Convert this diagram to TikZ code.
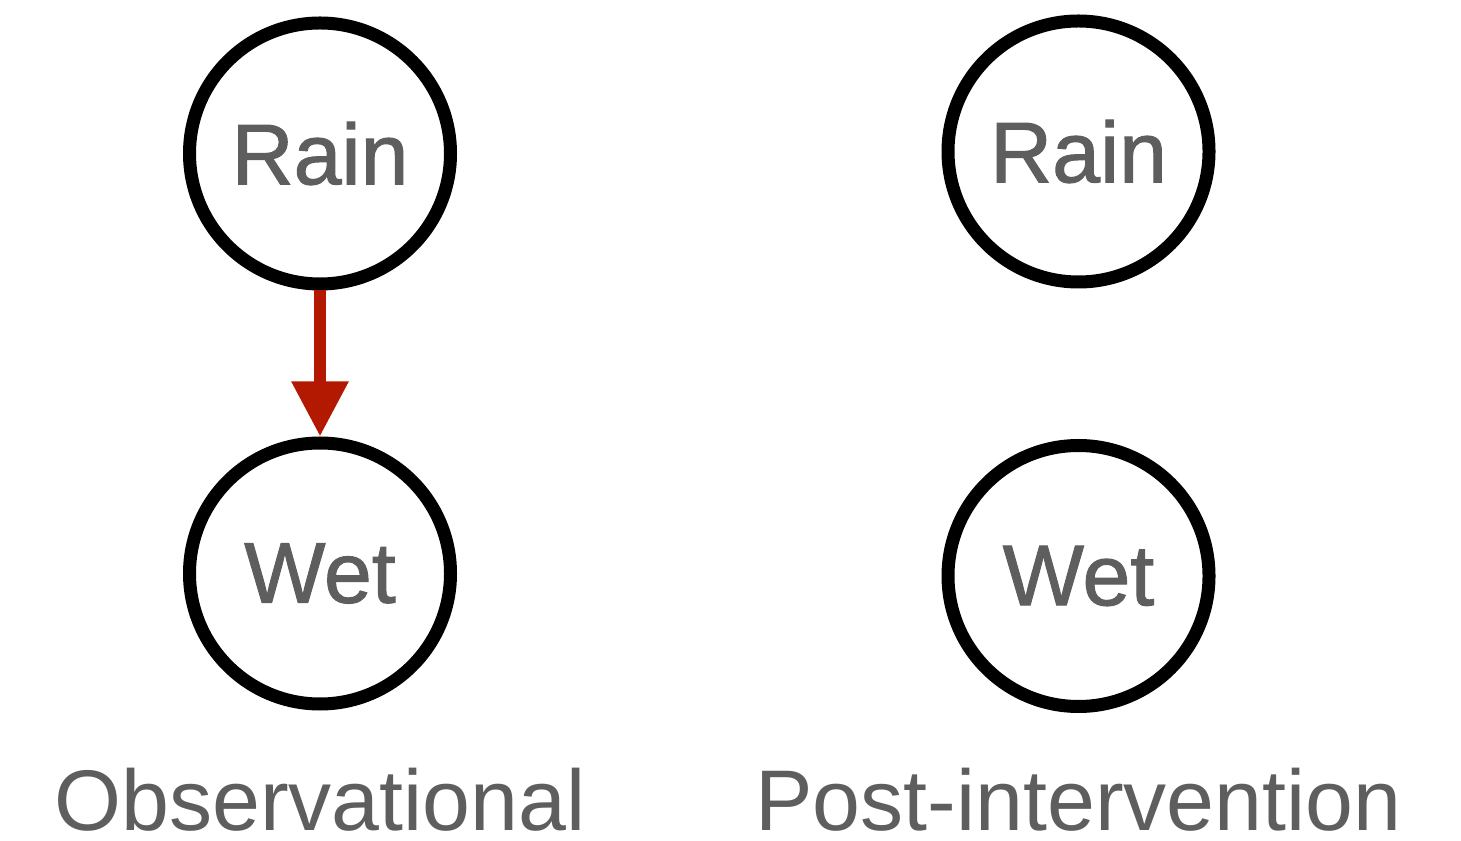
\documentclass[tikz,border=0pt]{standalone}
\usepackage{fontspec}
\setmainfont{Liberation Sans}
\newfontfamily\varfont{Liberation Sans}[FakeBold=1.2]
\usepackage{tikz}
\usetikzlibrary{arrows.meta,positioning}
\definecolor{labelgray}{HTML}{5E5E5E}
\definecolor{edgered}{HTML}{B31800}
\tikzset{
  var/.style={circle, draw=black, line width=0.13cm, minimum size=2.61cm,
    inner sep=0pt, text=labelgray, font=\varfont\fontsize{24.5}{29}\selectfont},
  caption/.style={anchor=base, text=labelgray, inner sep=0pt,
    font=\fontsize{24.5}{29}\selectfont},
  causal/.style={draw=edgered, line width=0.12cm,
    -{Triangle[length=0.55cm, width=0.54cm, fill=edgered]}},
}

\begin{document}
\begin{tikzpicture}
    \useasboundingbox (0,0) rectangle (14.61,8.40);
        % observational graph
        \node[var] (rainL) at (3.20,6.865) {Rain};
        \node[var] (wetL) at (3.20,2.665) {Wet};
        \draw[causal] (rainL) -- (wetL);
        \node[caption] (obsL) at (3.20,0.10) {Observational};
        % after intervening on Wet
        \node[var] (rainR) at (10.785,6.885) {Rain};
        \node[var] (wetR) at (10.785,2.64) {Wet};
        \node[caption] (postR) at (10.785,0.10) {Post-intervention};
  \end{tikzpicture}
\end{document}
